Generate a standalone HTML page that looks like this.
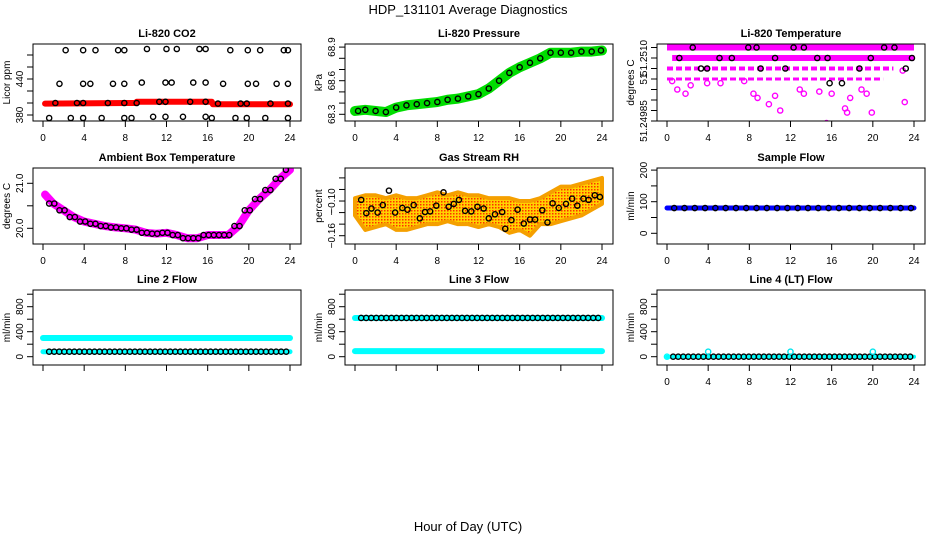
<!DOCTYPE html>
<html><head><meta charset="utf-8"><style>
body{margin:0;background:#fff}
svg{display:block;font-family:"Liberation Sans",sans-serif}
</style></head><body>
<svg id="c" width="936" height="540" viewBox="0 0 936 540">
<text x="468" y="14" text-anchor="middle" font-size="13">HDP_131101  Average Diagnostics</text>
<text x="468" y="531" text-anchor="middle" font-size="13">Hour of Day (UTC)</text>
</svg>
<script>
// ---- data ----
const xTicks=[0,4,8,12,16,20,24];
// CO2
const co2BandT=[0.2,9,9.1,16.4,16.5,24];
const co2BandV=[399,400,402,402,398,398];
const co2T1=[2.2,3.9,5.1,7.3,7.9,10.1,12.0,13.0,15.2,15.8,18.2,19.9,21.1,23.4,23.8];
const co2V1=[488,488,488,488,488,490,490,490,490,490,488,488,488,488,488];
const co2T2=[1.6,3.9,4.6,6.8,7.9,9.6,11.9,12.5,14.6,15.8,17.5,19.9,20.7,22.7,23.8];
const co2V2=[432,432,432,432,432,434,434,434,434,434,432,432,432,432,432];
const co2T3=[1.2,3.3,3.9,6.3,7.9,9.1,11.3,11.9,14.3,15.8,17.0,19.2,19.8,22.1,23.8];
const co2V3=[400,400,400,400,400,400,402,402,402,402,399,399,399,399,399];
const co2T4=[0.6,2.7,3.9,5.7,7.9,8.6,10.7,11.9,13.6,15.8,16.4,18.7,19.8,21.6,23.8];
const co2V4=[375,375,375,375,375,375,377,377,377,377,375,375,375,375,375];
// Pressure
const hours=[0,1,2,3,4,5,6,7,8,9,10,11,12,13,14,15,16,17,18,19,20,21,22,23,24];
const presV=[68.33,68.34,68.33,68.32,68.36,68.38,68.39,68.40,68.41,68.43,68.44,68.46,68.48,68.53,68.60,68.67,68.72,68.76,68.80,68.85,68.85,68.85,68.86,68.86,68.87];
// Li-820 temperature
const tLevels=[51.2515,51.2510,51.2505,51.2500];
const tSegStart=[0,0.5,0,0];
const tSegEnd=[24,24,22,21];
const tScatT=[1.0,1.8,2.3,0.5,3.9,5.2,7.5,8.4,8.8,9.9,10.5,11.0,12.9,13.3,14.8,15.5,16.0,17.3,17.5,17.8,18.9,19.4,19.9,22.9,23.1];
const tScatV=[51.2495,51.2493,51.2497,51.2499,51.2498,51.2498,51.2499,51.2493,51.2491,51.2488,51.2492,51.2485,51.2495,51.2493,51.2494,51.2479,51.2493,51.2486,51.2484,51.2491,51.2495,51.2493,51.2484,51.2504,51.2489];
const tBlkT=[1.2,2.5,3.3,3.9,5.1,6.3,7.9,8.7,9.1,10.5,11.5,12.3,13.3,14.6,15.6,15.8,17.0,18.7,19.8,21.1,22.1,23.2,23.8];
const tBlkV=[51.2510,51.2515,51.2505,51.2505,51.2510,51.2510,51.2515,51.2515,51.2505,51.2510,51.2505,51.2515,51.2515,51.2510,51.2510,51.2498,51.2498,51.2505,51.2510,51.2515,51.2515,51.2505,51.2510];
// Ambient
const ambV=[20.75,20.55,20.4,20.25,20.15,20.1,20.05,20.02,20.0,19.97,19.9,19.88,19.9,19.85,19.78,19.78,19.85,19.85,19.85,20.05,20.4,20.65,20.85,21.1,21.3];
// RH
const rhLo=[-0.125,-0.15,-0.145,-0.14,-0.15,-0.15,-0.145,-0.14,-0.14,-0.135,-0.14,-0.14,-0.145,-0.14,-0.145,-0.155,-0.15,-0.16,-0.14,-0.14,-0.135,-0.13,-0.125,-0.115,-0.105];
const rhHi=[-0.095,-0.09,-0.09,-0.095,-0.09,-0.095,-0.095,-0.09,-0.085,-0.09,-0.085,-0.09,-0.09,-0.095,-0.095,-0.095,-0.1,-0.1,-0.095,-0.085,-0.075,-0.075,-0.07,-0.065,-0.06];
const rhT=[0.6,1.1,1.6,2.2,2.7,3.3,3.9,4.6,5.1,5.7,6.3,6.8,7.3,7.9,8.6,9.1,9.6,10.1,10.7,11.3,11.9,12.5,13.0,13.6,14.3,14.6,15.2,15.8,16.4,17.0,17.5,18.2,18.7,19.2,19.8,20.5,21.1,21.6,22.2,22.7,23.3,23.8];
const rhV=[-0.098,-0.121,-0.113,-0.12,-0.107,-0.082,-0.12,-0.112,-0.115,-0.107,-0.13,-0.119,-0.118,-0.108,-0.085,-0.11,-0.105,-0.098,-0.117,-0.118,-0.11,-0.113,-0.13,-0.123,-0.119,-0.148,-0.133,-0.115,-0.139,-0.132,-0.132,-0.116,-0.137,-0.104,-0.112,-0.105,-0.096,-0.108,-0.096,-0.098,-0.09,-0.093];
// Flows
const sampleV=80, line2Hi=300, line2Lo=80, line3Hi=620, line3Lo=90, line4V=0, line4Spike=80;
const spikeT=[4,12,20];

const svg=document.getElementById('c');
const NS='http://www.w3.org/2000/svg';
function mk(tag,attrs,parent){const e=document.createElementNS(NS,tag);for(const k in attrs)e.setAttribute(k,attrs[k]);(parent||svg).appendChild(e);return e;}

const cols=[{bx:33,bw:268,x0:43,x24:290},{bx:345,bw:268,x0:355,x24:602},{bx:657,bw:268,x0:667,x24:914}];
const rows=[{by:44,bh:77},{by:168,bh:76},{by:290,bh:75}];

function panel(ci,ri,title,ylab,yTickVals,yTickLabels,yfn,showXLabels,name){
  const c=cols[ci],r=rows[ri];
  const g=mk('g',{});
  
  
  const xs=t=>c.x0+t*(c.x24-c.x0)/24;
  const clip=mk('clipPath',{id:'cl'+ci+ri},g);
  mk('rect',{x:c.bx,y:r.by,width:c.bw,height:r.bh},clip);
  const plot=mk('g',{'clip-path':'url(#cl'+ci+ri+')'},g);
  const t=mk('text',{x:c.bx+c.bw/2,y:r.by-7,'text-anchor':'middle','font-size':11,'font-weight':'bold'},g);
  t.textContent=title;
  
  
  mk('rect',{x:c.bx,y:r.by,width:c.bw,height:r.bh,fill:'none',stroke:'#000','stroke-width':1},g);
  const xa=mk('g',{},g);
  
  
  xTicks.forEach(v=>{const x=xs(v);mk('line',{x1:x,x2:x,y1:r.by+r.bh,y2:r.by+r.bh+6,stroke:'#000'},xa);
    if(showXLabels){const tt=mk('text',{x:x,y:r.by+r.bh+20,'text-anchor':'middle','font-size':10},xa);tt.textContent=v;}});
  const ya=mk('g',{},g);
  
  
  yTickVals.forEach((v,i)=>{const y=yfn(v);mk('line',{x1:c.bx,x2:c.bx-6,y1:y,y2:y,stroke:'#000'},ya);
    if(yTickLabels[i]){const tt=mk('text',{x:c.bx-10,y:y,'text-anchor':'middle','font-size':10,transform:`rotate(-90 ${c.bx-10} ${y})`},ya);tt.textContent=yTickLabels[i];}});
  const yl=mk('text',{x:c.bx-23,y:r.by+r.bh/2,'text-anchor':'middle','font-size':10,transform:`rotate(-90 ${c.bx-23} ${r.by+r.bh/2})`},g);
  yl.textContent=ylab;
  
  
  return {plot,xs,yfn};
}
function circ(p,x,y,col,name){const e=mk('circle',{cx:x,cy:y,r:2.6,fill:'none',stroke:col||'#000','stroke-width':1.4},p);
  
  return e;}
function band(p,ts,vs,P,col,w,name){const pts=ts.map((t,i)=>P.xs(t)+','+P.yfn(vs[i])).join(' ');
  const e=mk('polyline',{points:pts,fill:'none',stroke:col,'stroke-width':w,'stroke-linejoin':'round','stroke-linecap':'round'},p);
  
  return e;}

// Panel 1 CO2
let P=panel(0,0,'Li-820 CO2','Licor ppm',[380,400,420,440,460,480],['380','','','440','',''],v=>115-(v-380)*0.6,true,'panel-co2');
band(P.plot,co2BandT,co2BandV,P,'#ff0000',6,'co2-band');
[[co2T1,co2V1],[co2T2,co2V2],[co2T3,co2V3],[co2T4,co2V4]].forEach(([ts,vs])=>ts.forEach((t,i)=>circ(P.plot,P.xs(t),P.yfn(vs[i]),'#000','co2-point')));

// Panel 2 Pressure
P=panel(1,0,'Li-820 Pressure','kPa',[68.3,68.4,68.5,68.6,68.7,68.8,68.9],['68.3','','','68.6','','','68.9'],v=>114.3-(v-68.3)*112,true,'panel-pressure');
band(P.plot,hours,presV,P,'#00dd00',10,'pressure-band');
hours.forEach((t,i)=>circ(P.plot,P.xs(Math.min(Math.max(t,0.3),23.9)),P.yfn(presV[i]),'#000','pressure-point'));

// Panel 3 Temperature
P=panel(2,0,'Li-820 Temperature','degrees C',[51.2515,51.2510,51.2505,51.2500,51.2495,51.2490,51.2485,51.2480],['','51.2510','','51','','','','51.24985'],v=>79-(v-51.25)*21000,true,'panel-li820-temp');
tLevels.forEach((lv,i)=>{const y=P.yfn(lv);const e=mk('line',{x1:P.xs(tSegStart[i]),x2:P.xs(tSegEnd[i]),y1:y,y2:y,stroke:'#ff00ff','stroke-width':i<2?6:(i==2?4:3),'stroke-dasharray':i<2?'none':'6 3'},P.plot);
  
  });
tScatT.forEach((t,i)=>circ(P.plot,P.xs(t),P.yfn(tScatV[i]),'#ff00ff','temp-scatter'));
tBlkT.forEach((t,i)=>circ(P.plot,P.xs(t),P.yfn(tBlkV[i]),'#000','temp-point'));

// Panel 4 Ambient
P=panel(0,1,'Ambient Box Temperature','degrees C',[20.0,20.5,21.0],['20.0','','21.0'],v=>228.3-(v-20)*45,true,'panel-ambient');
band(P.plot,hours.map(h=>Math.max(h,0.2)),ambV,P,'#ff00ff',8,'ambient-band');
hours.forEach((t,i)=>{if(t>0)circ(P.plot,P.xs(t-0.4),P.yfn(ambV[i]),'#000','ambient-point');});
hours.forEach((t,i)=>{if(t>0&&t<24)circ(P.plot,P.xs(t+0.1),P.yfn(ambV[i]),'#000','ambient-point');});

// Panel 5 RH
P=panel(1,1,'Gas Stream RH','percent',[-0.16,-0.14,-0.12,-0.10,-0.08,-0.06],['\u22120.16','','\u2212','\u22120.10','',''],v=>235.7-(v+0.16)*578,true,'panel-rh');
const defs=mk('defs',{});
const pat=mk('pattern',{id:'dots',width:3,height:3,patternUnits:'userSpaceOnUse'},defs);
mk('rect',{width:3,height:3,fill:'#ffd200'},pat);mk('rect',{width:1.5,height:1.5,fill:'#ff3000'},pat);
const poly=hours.map((t,i)=>P.xs(t)+','+P.yfn(rhHi[i])).concat(hours.slice().reverse().map((t,j)=>P.xs(t)+','+P.yfn(rhLo[24-j]))).join(' ');
const pg=mk('polygon',{points:poly,fill:'url(#dots)',stroke:'#f5a000','stroke-width':4,'stroke-linejoin':'round'},P.plot);


rhT.forEach((t,i)=>circ(P.plot,P.xs(t),P.yfn(rhV[i]),'#000','rh-point'));

// Panel 6 Sample flow
P=panel(2,1,'Sample Flow','ml/min',[0,50,100,150,200],['0','','100','','200'],v=>233.3-v*0.316,true,'panel-sample-flow');
band(P.plot,[0,24],[sampleV,sampleV],P,'#0000ff',5,'sample-band');
hours.forEach(t=>{if(t>0)circ(P.plot,P.xs(t-0.3),P.yfn(sampleV),'#000','sample-point');});

// Row 3 flows
const fTicks=[0,200,400,600,800,1000],fLab=['0','','400','','800',''],fY=v=>356.7-v*0.0625;
P=panel(0,2,'Line 2 Flow','ml/min',fTicks,fLab,fY,false,'panel-line2');
band(P.plot,[0,24],[line2Hi,line2Hi],P,'#00ffff',6,'line2-high');
band(P.plot,[0,24],[line2Lo,line2Lo],P,'#00ffff',5,'line2-low');
for(let i=0;i<48;i++)circ(P.plot,P.xs(0.6+i*0.49),P.yfn(line2Lo),'#000','line2-point');
P=panel(1,2,'Line 3 Flow','ml/min',fTicks,fLab,fY,false,'panel-line3');
band(P.plot,[0,24],[line3Hi,line3Hi],P,'#00ffff',6,'line3-high');
band(P.plot,[0,24],[line3Lo,line3Lo],P,'#00ffff',6,'line3-low');
for(let i=0;i<48;i++)circ(P.plot,P.xs(0.6+i*0.49),P.yfn(line3Hi),'#000','line3-point');
P=panel(2,2,'Line 4 (LT) Flow','ml/min',fTicks,fLab,fY,true,'panel-line4');
band(P.plot,[0,24],[line4V,line4V],P,'#00ffff',4,'line4-band');
for(let i=0;i<48;i++)circ(P.plot,P.xs(0.6+i*0.49),P.yfn(line4V),'#000','line4-point');
spikeT.forEach(t=>circ(P.plot,P.xs(t),P.yfn(line4Spike),'#00e5ee','line4-spike'));
circ(P.plot,P.xs(0),P.yfn(line4V),'#00ffff','line4-start');
</script>
</body></html>
